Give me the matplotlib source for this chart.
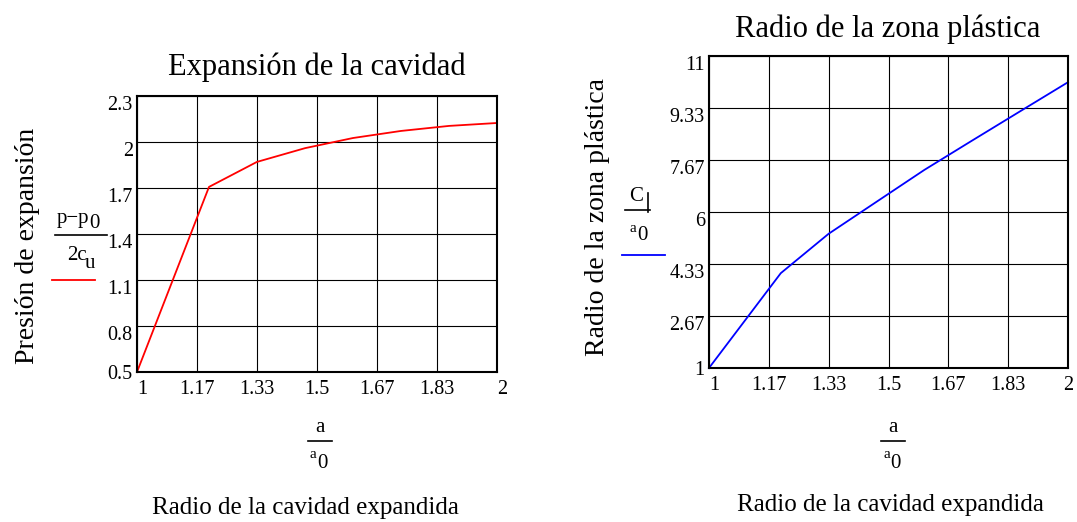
import numpy as np
import matplotlib
matplotlib.use("Agg")
import matplotlib.pyplot as plt

plt.rcParams['font.family'] = ['Liberation Serif', 'DejaVu Serif']

# datos
a_ratio = [1.0, 1.2, 1.333, 1.467, 1.6, 1.733, 1.867, 2.0]
presion = [0.5, 1.707, 1.87, 1.96, 2.026, 2.072, 2.105, 2.124]
radio_c = [1.0, 4.04, 5.30, 6.33, 7.35, 8.29, 9.23, 10.16]

x_ticklabels = ['1', '1.17', '1.33', '1.5', '1.67', '1.83', '2']
x_gridpos = [1, 7/6, 8/6, 1.5, 10/6, 11/6, 2]
p_ticks = [0.5, 0.8, 1.1, 1.4, 1.7, 2.0, 2.3]
p_ticklabels = ['0.5', '0.8', '1.1', '1.4', '1.7', '2', '2.3']
c_ticks = [1, 8/3, 13/3, 6, 23/3, 28/3, 11]
c_ticklabels = ['1', '2.67', '4.33', '6', '7.67', '9.33', '11']

W, H = 1077, 522
fig = plt.figure(figsize=(W/100, H/100), dpi=100)

def px(x, y):
    return x / W, 1 - y / H

def box(x0, y0, x1, y1):
    return [x0 / W, 1 - y1 / H, (x1 - x0) / W, (y1 - y0) / H]

def hline(x0, x1, y, color='black', lw=1.2):
    fig.add_artist(plt.Line2D([x0/W, x1/W], [1-y/H, 1-y/H], color=color, linewidth=lw))

def txt(x, y, s, size=15, **kw):
    fig.text(*px(x, y), s, fontsize=size, va='center', **kw)

def setup(ax, yticks, ylabels, ylim, last_ha):
    ax.set_xlim(1, 2)
    ax.set_ylim(*ylim)
    ax.set_xticks(x_gridpos)
    ax.set_xticklabels(x_ticklabels)
    ax.set_yticks(yticks)
    ax.set_yticklabels(ylabels)
    ax.grid(True, color='black', linewidth=0.8)
    ax.tick_params(length=0, labelsize=14.5)
    ax.tick_params(axis='x', pad=6)
    ax.tick_params(axis='y', pad=3)
    for s in ax.spines.values():
        s.set_linewidth(1.5)
    xl = ax.get_xticklabels()
    xl[0].set_ha('left')
    xl[-1].set_ha(last_ha)
    yl = ax.get_yticklabels()
    for t in yl[1:]:
        t.set_va('top')

ax1 = fig.add_axes(box(137, 96, 497, 372))
ax1.plot(a_ratio, presion, color='red', linewidth=1.3, clip_on=False)
setup(ax1, p_ticks, p_ticklabels, (0.5, 2.3), 'left')

ax2 = fig.add_axes(box(709, 56, 1068, 368))
ax2.plot(a_ratio, radio_c, color='blue', linewidth=1.3, clip_on=False)
setup(ax2, c_ticks, c_ticklabels, (1, 11), 'center')

# titulos
txt(317, 67, 'Expansión de la cavidad', 22, ha='center')
txt(888, 29, 'Radio de la zona plástica', 22, ha='center')

# ejes y
txt(28, 246, 'Presión de expansión', 20, rotation=90, ha='center')
txt(597, 217, 'Radio de la zona plástica', 20, rotation=90, ha='center')

# fraccion izquierda: (p - p0) / 2cu
txt(57, 219, 'p\u2212p', 15, ha='left')
txt(89, 223, '0', 15, ha='left')
hline(55, 107, 235)
txt(67, 255, '2c', 15, ha='left')
txt(85, 263, 'u', 15, ha='left')
hline(52, 95, 280, color='red', lw=1.3)

# fraccion derecha: C / a0
txt(636, 196, 'C', 15, ha='center')
fig.add_artist(plt.Line2D([648/W, 648/W], [1-193/H, 1-212/H], color='black', linewidth=1.2))
hline(625, 650, 210)
txt(630, 229, 'a', 11, ha='left')
txt(637, 236, '0', 15, ha='left')
hline(622, 665, 255, color='blue', lw=1.3)

# fracciones a/a0
for cx in (320, 893):
    txt(cx, 427, 'a', 15, ha='center')
    hline(cx - 12, cx + 12, 441)
    txt(cx - 10, 455, 'a', 11, ha='left')
    txt(cx - 3, 463, '0', 15, ha='left')

txt(305, 508, 'Radio de la cavidad expandida', 18, ha='center')
txt(890, 505, 'Radio de la cavidad expandida', 18, ha='center')

fig.savefig('out.png', dpi=100)
